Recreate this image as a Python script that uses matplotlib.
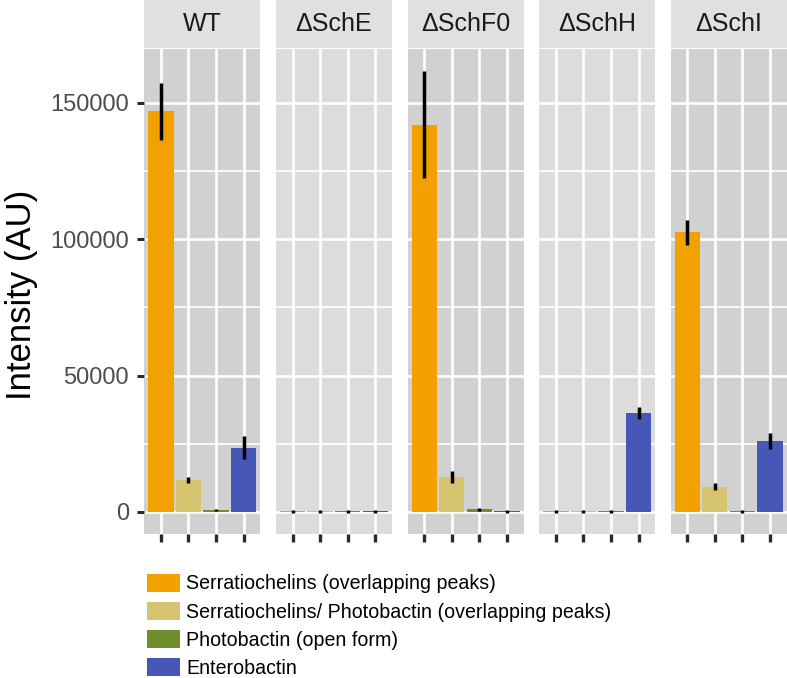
import matplotlib
matplotlib.use('Agg')
import matplotlib.pyplot as plt
from matplotlib.patches import Patch

plt.rcParams['font.family'] = ['Liberation Sans', 'DejaVu Sans']

samples = ["WT", "ΔSchE", "ΔSchF0", "ΔSchH", "ΔSchI"]
compounds = ["Serratiochelins (overlapping peaks)",
             "Serratiochelins/ Photobactin (overlapping peaks)",
             "Photobactin (open form)",
             "Enterobactin"]
colors = ["#F2A100", "#D6C46E", "#6E8F2C", "#4757B8"]

serratiochelins = [146800, 300, 142000, 300, 102500]
serratiochelins_err = [10400, 600, 19500, 600, 4500]
serr_photobactin = [11700, 200, 12900, 200, 9200]
serr_photobactin_err = [1000, 500, 2100, 500, 1300]
photobactin_open = [700, 200, 1000, 200, 300]
photobactin_open_err = [400, 500, 500, 500, 500]
enterobactin = [23500, 250, 200, 36300, 25900]
enterobactin_err = [4200, 500, 500, 2100, 3000]

yticks = [0, 50000, 100000, 150000]
yticks_minor = [25000, 75000, 125000]

values = [serratiochelins, serr_photobactin, photobactin_open, enterobactin]
errors = [serratiochelins_err, serr_photobactin_err, photobactin_open_err, enterobactin_err]

W, H = 787, 678
fig = plt.figure(figsize=(W / 100, H / 100), dpi=100)

lefts = [144.3, 276.0, 407.7, 539.3, 670.7]
pw = 115.8
ptop, pbot = 49.3, 534.0
strip_h = 48.0
panel_bg = ["#D1D1D1", "#DCDCDC", "#D1D1D1", "#DCDCDC", "#D1D1D1"]

top = max(v + e for vs, es in zip(values, errors) for v, e in zip(vs, es))
ylo, yhi = -0.05 * top, 1.05 * top

xs = [1, 2, 3, 4]
for i, s in enumerate(samples):
    l = lefts[i]
    ax = fig.add_axes([l / W, 1 - pbot / H, pw / W, (pbot - ptop) / H])
    ax.set_facecolor(panel_bg[i])
    ax.set_xlim(0.4, 4.6)
    ax.set_ylim(ylo, yhi)
    ax.set_xticks(xs)
    ax.set_yticks(yticks)
    ax.set_yticks(yticks_minor, minor=True)
    ax.grid(which='major', color='white', linewidth=1.9)
    ax.grid(which='minor', axis='y', color='white', linewidth=1.2)
    ax.set_axisbelow(True)
    vals = [values[k][i] for k in range(4)]
    errs = [errors[k][i] for k in range(4)]
    ax.bar(xs, vals, width=0.92, color=colors, zorder=2)
    ax.errorbar(xs, vals, yerr=errs, fmt='none', ecolor='black',
                elinewidth=2.5, capsize=0, zorder=3)
    for sp in ax.spines.values():
        sp.set_visible(False)
    ax.tick_params(axis='x', which='major', length=5.5, width=2.4, color='#2A2A2A',
                   labelbottom=False)
    ax.tick_params(axis='y', which='minor', length=0)
    if i == 0:
        ax.tick_params(axis='y', which='major', length=5, width=2.2, color='#2A2A2A',
                       labelsize=17, labelcolor='#4D4D4D', pad=6)
        ax.set_yticklabels([str(t) for t in yticks])
    else:
        ax.tick_params(axis='y', which='major', length=0, labelleft=False)

    sax = fig.add_axes([l / W, 1 - strip_h / H, pw / W, strip_h / H])
    sax.set_facecolor("#E0E0E0")
    sax.set_xticks([]); sax.set_yticks([])
    for sp in sax.spines.values():
        sp.set_visible(False)
    sax.text(0.5, 0.5, s, ha='center', va='center', fontsize=18,
             color='#1A1A1A', transform=sax.transAxes)

fig.text(22 / W, 1 - 295 / H, "Intensity (AU)", rotation=90, ha='center',
         va='center', fontsize=25, color='black')

handles = [Patch(facecolor=c, edgecolor='none') for c in colors]
fig.legend(handles, compounds, loc='upper left',
           bbox_to_anchor=(147 / W, 1 - 574 / H), frameon=False, fontsize=14.1,
           handlelength=1.7, handleheight=1.0, handletextpad=0.3,
           labelspacing=0.44, borderpad=0, borderaxespad=0)

fig.savefig("out.png", dpi=100)
